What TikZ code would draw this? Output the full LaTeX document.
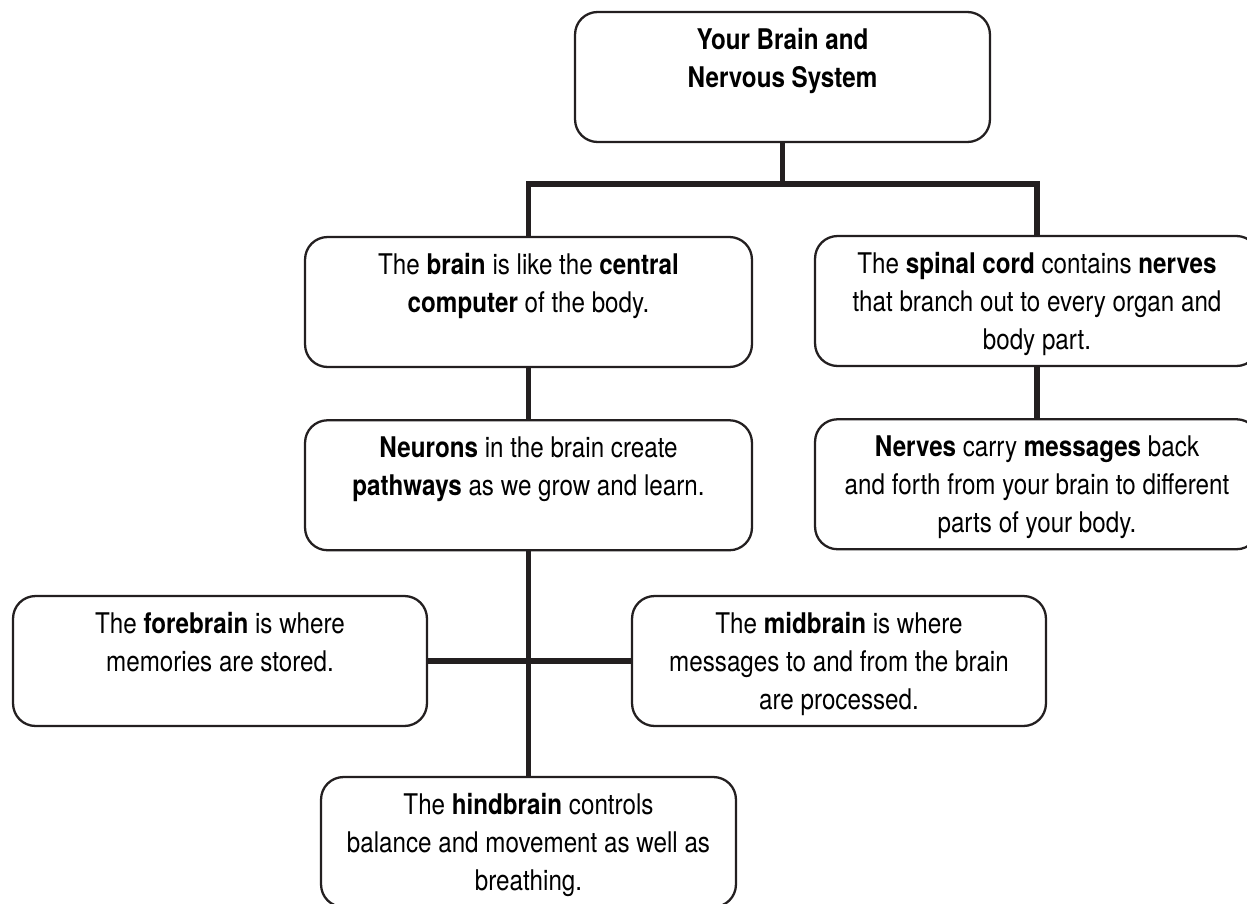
\documentclass[tikz,border=0pt]{standalone}
\usepackage{fontspec}
\setmainfont{TeX Gyre Heros}[FakeStretch=0.85]
\usepackage{tikz}
\usetikzlibrary{positioning}
\definecolor{ink}{HTML}{231F20}
\newcommand{\cardtext}[2]{\parbox[c][2.6cm][t]{#1}{\centering\fontsize{16.2}{21.5}\selectfont\rule{0pt}{0.75cm}#2\par}}

\begin{document}
\begin{tikzpicture}[x=0.02cm,y=-0.02cm,
  card/.style={draw=ink,line width=1.3pt,rounded corners=0.45cm,inner sep=0pt,fill=white},
  link/.style={draw=ink,line width=3pt}]
\useasboundingbox (0,0) rectangle (1247,903);
\clip (0,0) rectangle (1247,903);
% boxes
\node[card] (top) at (782.5,77) {\cardtext{8.3cm}{\textbf{Your Brain and}\\\textbf{Nervous System}}};
\node[card] (brain) at (528.5,302) {\cardtext{8.94cm}{The \textbf{brain} is like the \textbf{central}\\\textbf{computer} of the body.}};
\node[card,below=1.02cm of brain] (neurons) {\cardtext{8.94cm}{\textbf{Neurons} in the brain create\\\textbf{pathways} as we grow and learn.}};
\node[card] (spinal) at (1037,301) {\cardtext{8.88cm}{The \textbf{spinal cord} contains \textbf{nerves}\\that branch out to every organ and\\body part.}};
\node[card,below=1.02cm of spinal] (nerves) {\cardtext{8.88cm}{\textbf{Nerves} carry \textbf{messages} back\\and forth from your brain to different\\parts of your body.}};
\node[card] (fore) at (220,661) {\cardtext{8.28cm}{The \textbf{forebrain} is where\\memories are stored.}};
\node[card] (mid) at (839,661) {\cardtext{8.28cm}{The \textbf{midbrain} is where\\messages to and from the brain\\are processed.}};
\node[card] (hind) at (528.5,842) {\cardtext{8.3cm}{The \textbf{hindbrain} controls\\balance and movement as well as\\breathing.}};
% connectors
\coordinate (bus) at (782.5,184);
\draw[link] (top.south) -- (top.south |- bus);
\draw[link] (brain.north) |- (bus -| spinal.north) -- (spinal.north);
\draw[link] (brain.south) -- (neurons.north);
\draw[link] (spinal.south) -- (nerves.north);
\draw[link] (neurons.south) -- (hind.north);
\draw[link] (fore.east) -- (mid.west);
\end{tikzpicture}
\end{document}
